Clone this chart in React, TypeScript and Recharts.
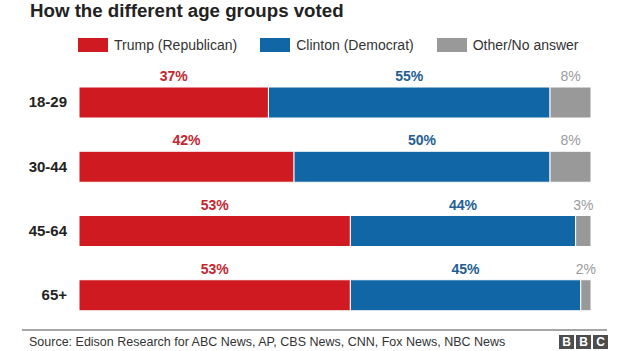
import React from "react";
import { BarChart, Bar, XAxis, YAxis, LabelList } from "recharts";

const AGE_GROUPS = ["18-29", "30-44", "45-64", "65+"];
const TRUMP = [37, 42, 53, 53];
const CLINTON = [55, 50, 44, 45];
const OTHER = [8, 8, 3, 2];

const SERIES = [
  { key: "trump", name: "Trump (Republican)", fill: "#cf1a21", text: "#c4262f", weight: 700 },
  { key: "clinton", name: "Clinton (Democrat)", fill: "#1166a6", text: "#235d93", weight: 700 },
  { key: "other", name: "Other/No answer", fill: "#999999", text: "#9a9a9a", weight: 400 },
];

const FONT = '"Liberation Sans", Arial, Helvetica, sans-serif';

const data = AGE_GROUPS.map((age, i) => ({
  age,
  trump: TRUMP[i],
  clinton: CLINTON[i],
  other: OTHER[i],
}));

const makeLabel = (color: string, weight: number) => (props: any) => {
  const { x, y, width, value } = props;
  return (
    <text
      x={x + width / 2}
      y={y - 6}
      textAnchor="middle"
      fill={color}
      fontSize={14}
      fontWeight={weight}
      fontFamily={FONT}
    >
      {value}%
    </text>
  );
};

export default function App() {
  return (
    <div style={{ position: "relative", width: 624, height: 351, background: "#fff", fontFamily: FONT }}>
      <style>{"body{margin:0}"}</style>
      <div
        style={{
          position: "absolute",
          left: 30,
          top: 0,
          fontSize: 18.7,
          fontWeight: 700,
          color: "#222",
          lineHeight: "22px",
        }}
      >
        How the different age groups voted
      </div>

      {/* legend */}
      <div
        style={{
          position: "absolute",
          left: 78,
          top: 36,
          display: "flex",
          alignItems: "center",
          gap: 23,
          fontSize: 14,
          color: "#333",
          lineHeight: "18px",
        }}
      >
        {SERIES.map((s) => (
          <div key={s.key} style={{ display: "flex", alignItems: "center" }}>
            <span style={{ display: "inline-block", width: 30, height: 14, background: s.fill, marginRight: 6 }} />
            <span>{s.name}</span>
          </div>
        ))}
      </div>

      <div style={{ position: "absolute", left: 0, top: 0 }}>
        <BarChart
          width={624}
          height={351}
          data={data}
          layout="vertical"
          margin={{ top: 70, right: 33, bottom: 24, left: 0 }}
        >
          <XAxis type="number" domain={[0, 100]} hide />
          <YAxis
            type="category"
            dataKey="age"
            width={79}
            axisLine={false}
            tickLine={false}
            tickSize={0}
            tickMargin={12}
            tick={{ fill: "#222", fontSize: 15, fontWeight: 700, fontFamily: FONT }}
          />
          {SERIES.map((s) => (
            <Bar
              key={s.key}
              dataKey={s.key}
              stackId="a"
              fill={s.fill}
              stroke="#fff"
              strokeWidth={1}
              barSize={31}
              isAnimationActive={false}
            >
              <LabelList dataKey={s.key} content={makeLabel(s.text, s.weight)} />
            </Bar>
          ))}
        </BarChart>
      </div>

      {/* source */}
      <div style={{ position: "absolute", left: 22, top: 329, width: 585, borderTop: "2px solid #a6a6a6" }} />
      <div style={{ position: "absolute", left: 29, top: 334, fontSize: 12.5, color: "#333", lineHeight: "16px" }}>
        Source: Edison Research for ABC News, AP, CBS News, CNN, Fox News, NBC News
      </div>
      <div style={{ position: "absolute", left: 559, top: 335, display: "flex", gap: 2 }}>
        {["B", "B", "C"].map((l, i) => (
          <div
            key={i}
            style={{
              width: 15,
              height: 14,
              background: "#4d4d4d",
              color: "#fff",
              fontSize: 12,
              fontWeight: 700,
              lineHeight: "14px",
              textAlign: "center",
            }}
          >
            {l}
          </div>
        ))}
      </div>
    </div>
  );
}
